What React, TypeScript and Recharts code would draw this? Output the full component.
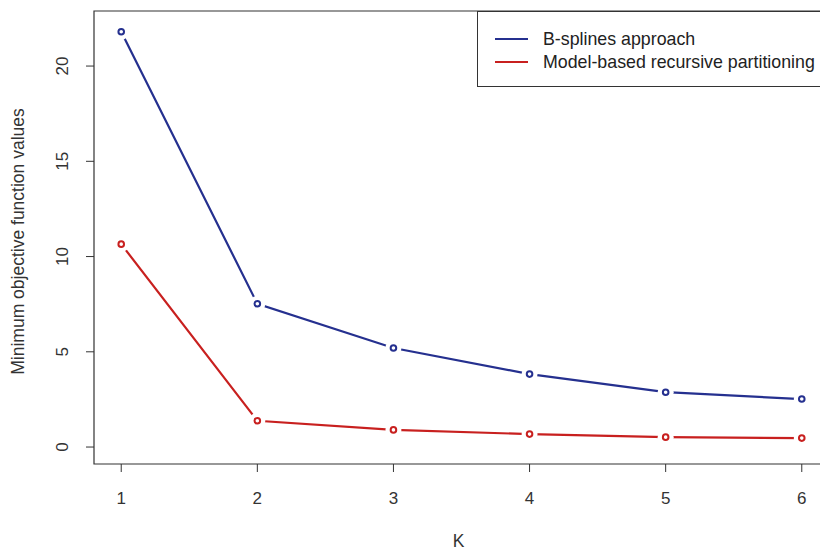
import { LineChart, Line, XAxis, YAxis, ReferenceArea } from "recharts";

const K_VALUES = [1, 2, 3, 4, 5, 6];
const BSPLINES = [21.8, 7.52, 5.2, 3.83, 2.88, 2.52];
const MOB = [10.65, 1.38, 0.9, 0.68, 0.52, 0.47];
const SERIES_NAMES = ["B-splines approach", "Model-based recursive partitioning"];
const Y_TICKS = [0, 5, 10, 15, 20];

const BLUE = "#25308f";
const RED = "#c8201f";
const INK = "#333";
const FONT = "'Liberation Sans', Arial, sans-serif";

const data = K_VALUES.map((k, i) => ({ k, bs: BSPLINES[i], mob: MOB[i] }));

const X_DOMAIN: [number, number] = [0.8, 6.2];
const Y_DOMAIN: [number, number] = [-0.89, 22.89];

// R-style "b" points: open circle with a small gap where the line meets it
const makeDot = (color: string) => (props: any) => {
  const { cx, cy, index } = props;
  return (
    <g key={index}>
      <circle cx={cx} cy={cy} r={8} fill="#fff" />
      <circle cx={cx} cy={cy} r={2.8} fill="none" stroke={color} strokeWidth={2} />
    </g>
  );
};

const XTick = ({ x, payload }: any) => (
  <text x={x} y={504} textAnchor="middle" fontSize={17} fill={INK} fontFamily={FONT}>
    {payload.value}
  </text>
);

const YTick = ({ y, payload }: any) => (
  <text x={68} y={y} transform={`rotate(-90 68 ${y})`} textAnchor="middle" fontSize={17} fill={INK} fontFamily={FONT}>
    {payload.value}
  </text>
);

export default function App() {
  return (
    <div style={{ position: "absolute", left: 0, top: 0, width: 820, height: 551, overflow: "hidden", background: "#fff" }}>
      <LineChart width={840} height={551} data={data} margin={{ top: 11, right: 11, bottom: 0, left: 0 }}>
        <XAxis
          dataKey="k"
          type="number"
          domain={X_DOMAIN}
          ticks={K_VALUES}
          allowDataOverflow
          height={87}
          axisLine={false}
          tickLine={{ stroke: INK }}
          tickSize={8}
          tick={<XTick />}
          label={{ value: "K", position: "insideBottom", offset: 4, fontSize: 17.5, fill: INK, fontFamily: FONT, dx: -3 }}
        />
        <YAxis
          type="number"
          domain={Y_DOMAIN}
          ticks={Y_TICKS}
          allowDataOverflow
          width={94}
          axisLine={false}
          tickLine={{ stroke: INK }}
          tickSize={8}
          tick={<YTick />}
          label={{
            value: "Minimum objective function values",
            angle: -90,
            position: "center",
            dx: -29,
            dy: 4,
            fontSize: 17.5,
            fill: INK,
            fontFamily: FONT,
          }}
        />
        <ReferenceArea
          x1={X_DOMAIN[0]}
          x2={X_DOMAIN[1]}
          y1={Y_DOMAIN[0]}
          y2={Y_DOMAIN[1]}
          fill="none"
          stroke={INK}
          strokeWidth={1.2}
          ifOverflow="visible"
        />
        <Line dataKey="bs" stroke={BLUE} strokeWidth={2.2} dot={makeDot(BLUE)} activeDot={false} isAnimationActive={false} />
        <Line dataKey="mob" stroke={RED} strokeWidth={2.2} dot={makeDot(RED)} activeDot={false} isAnimationActive={false} />
      </LineChart>
      <div
        style={{
          position: "absolute",
          left: 477,
          top: 11,
          width: 360,
          height: 76,
          border: `1.2px solid ${INK}`,
          boxSizing: "border-box",
          background: "#fff",
          fontFamily: FONT,
          fontSize: 17.8,
          color: "#222",
        }}
      >
        {SERIES_NAMES.map((name, i) => (
          <div key={name} style={{ position: "absolute", left: 17, top: 16 + i * 23, display: "flex", alignItems: "center", height: 22, whiteSpace: "nowrap" }}>
            <span style={{ display: "inline-block", width: 33, height: 2, background: i === 0 ? BLUE : RED, marginRight: 15 }} />
            <span>{name}</span>
          </div>
        ))}
      </div>
    </div>
  );
}
